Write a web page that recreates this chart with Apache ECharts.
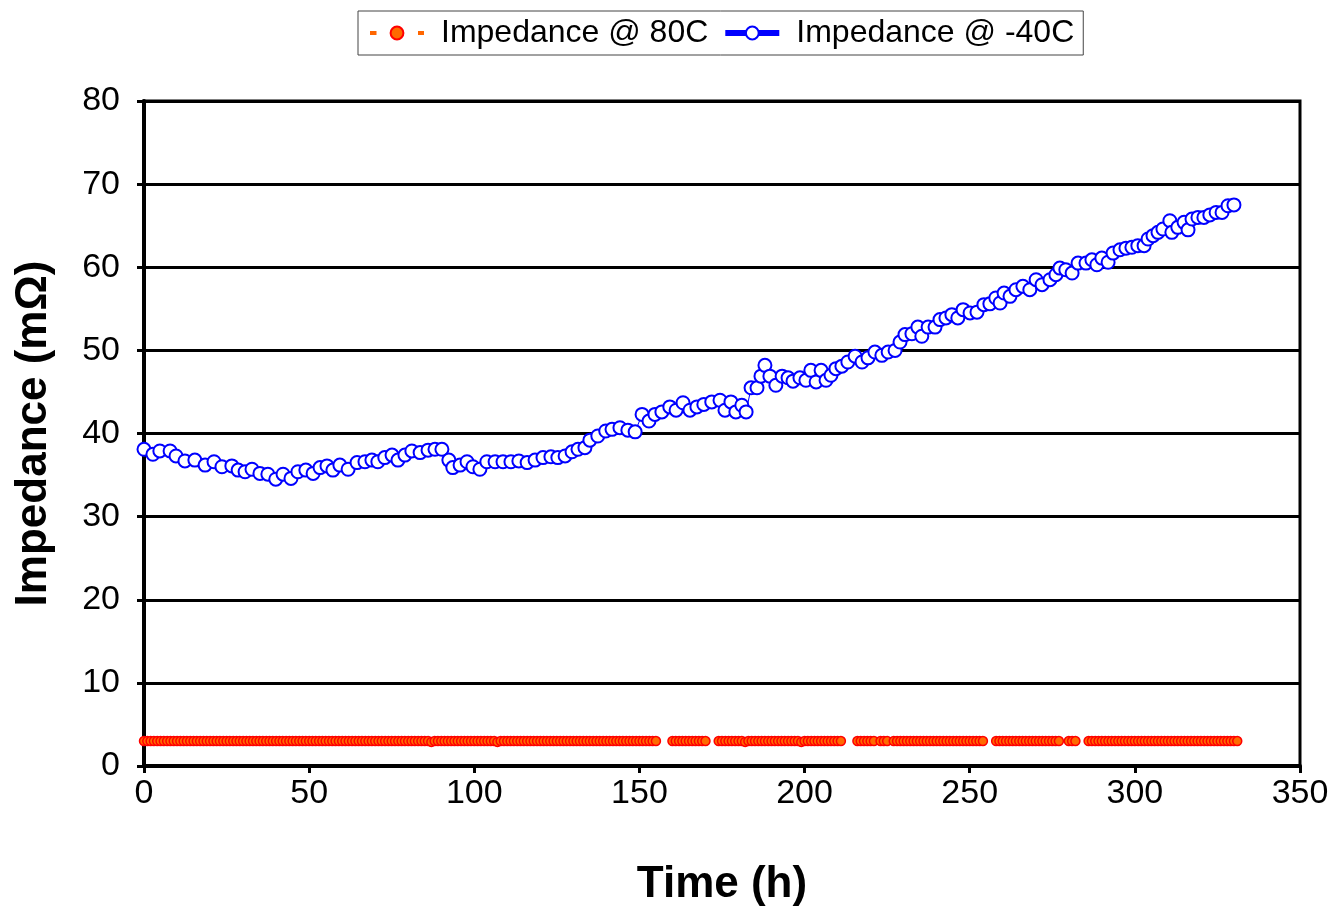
<!DOCTYPE html>
<html>
<head>
<meta charset="utf-8">
<title>Impedance vs Time</title>
<script src="https://cdn.jsdelivr.net/npm/echarts@6/dist/echarts.min.js"></script>
<style>
  html, body { margin: 0; padding: 0; background: #fff; }
  #chart { width: 1334px; height: 906px; }
</style>
</head>
<body>
<div id="chart"></div>
<script>
// Impedance measured at 80C (hours, mOhm); null marks a break in logging
const hours80 = [
  0,1,2,3,4,5,6,7,8,9,10,11,12,13,14,15,16,17,18,19,
  20,21,22,23,24,25,26,27,28,29,30,31,32,33,34,35,36,37,38,39,
  40,41,42,43,44,45,46,47,48,49,50,51,52,53,54,55,56,57,58,59,
  60,61,62,63,64,65,66,67,68,69,70,71,72,73,74,75,76,77,78,79,
  80,81,82,83,84,85,86,87,88,89,90,91,92,93,94,95,96,97,98,99,
  100,101,102,103,104,105,106,107,108,109,110,111,112,113,114,115,116,117,118,119,
  120,121,122,123,124,125,126,127,128,129,130,131,132,133,134,135,136,137,138,139,
  140,141,142,143,144,145,146,147,148,149,150,151,152,153,154,155,
  157.5,
  160,161,162,163,164,165,166,167,168,169,170,
  172,
  174,175,176,177,178,179,180,181,182,183,184,185,186,187,188,189,190,191,192,193,
  194,195,196,197,198,199,200,201,202,203,204,205,206,207,208,209,210,211,
  213.5,
  216,217,218,219,220,221,
  222,
  223,224,225,
  226,
  227,228,229,230,231,232,233,234,235,236,237,238,239,240,241,242,243,244,245,246,
  247,248,249,250,251,252,253,254,
  256,
  258,259,260,261,262,263,264,265,266,267,268,269,270,271,272,273,274,275,276,277,
  278.5,
  280,281,282,
  284,
  286,287,288,289,290,291,292,293,294,295,296,297,298,299,300,301,302,303,304,305,
  306,307,308,309,310,311,312,313,314,315,316,317,318,319,320,321,322,323,324,325,
  326,327,328,329,330,331
];
const imp80 = [
  3,3,3,3,3,3,3,3,3,3,3,3,3,3,3,3,3,3,3,3,
  3,3,3,3,3,3,3,3,3,3,3,3,3,3,3,3,3,3,3,3,
  3,3,3,3,3,3,3,3,3,3,3,3,3,3,3,3,3,3,3,3,
  3,3,3,3,3,3,3,3,3,3,3,3,3,3,3,3,3,3,3,3,
  3,3,3,3,3,3,3,2.9,3,3,3,3,3,3,3,3,3,3,3,3,
  3,3,3,3,3,3,3,2.9,3,3,3,3,3,3,3,3,3,3,3,3,
  3,3,3,3,3,3,3,3,3,3,3,3,3,3,3,3,3,3,3,3,
  3,3,3,3,3,3,3,3,3,3,3,3,3,3,3,3,
  null,
  3,3,3,3,3,3,3,3,3,3,3,
  null,
  3,3,3,3,3,3,3,3,2.9,3,3,3,3,3,3,3,3,3,3,3,
  3,3,3,3,3,2.9,3,3,3,3,3,3,3,3,3,3,3,3,
  null,
  3,3,3,3,3,3,
  null,
  3,3,3,
  null,
  3,3,3,3,3,3,3,3,3,3,3,3,3,3,3,3,3,3,3,3,
  3,3,3,3,3,3,3,3,
  null,
  3,3,3,3,3,3,3,3,3,3,3,3,3,3,3,3,3,3,3,3,
  null,
  3,3,3,
  null,
  3,3,3,3,3,3,3,3,3,3,3,3,3,3,3,3,3,3,3,3,
  3,3,3,3,3,3,3,3,3,3,3,3,3,3,3,3,3,3,3,3,
  3,3,3,3,3,3
];

// Impedance measured at -40C (hours, mOhm)
const hours40 = [
  0.0,2.7,4.8,7.9,9.7,12.4,15.4,18.5,21.2,23.6,
  26.6,28.5,30.6,32.7,35.1,37.5,39.9,42.1,44.5,46.6,
  49.0,51.2,53.3,55.4,57.2,59.3,61.8,64.5,66.9,69.0,
  70.8,72.9,75.1,76.9,79.0,81.1,83.6,86.0,88.1,90.2,
  92.3,93.5,95.7,97.8,99.6,101.7,103.8,106.3,108.7,111.1,
  113.5,116.0,118.4,120.8,123.2,125.3,127.5,129.6,131.4,133.5,
  135.0,137.4,139.8,141.7,144.1,146.5,148.7,150.8,152.9,154.7,
  156.8,159.2,161.1,163.2,165.3,167.4,169.5,171.9,174.4,175.9,
  177.7,179.2,181.0,182.3,183.8,185.6,186.8,188.0,189.5,191.3,
  193.2,195.0,196.5,198.6,200.4,201.9,203.5,205.0,206.5,208.0,
  209.5,211.3,213.1,215.3,217.4,219.2,221.3,223.4,225.3,227.4,
  228.9,230.4,232.5,234.3,235.5,237.4,239.5,241.0,242.8,244.6,
  246.4,248.0,250.1,252.2,254.3,256.1,257.9,259.2,260.4,262.2,
  264.0,266.1,268.2,270.1,271.9,274.3,276.1,277.3,279.1,281.0,
  282.8,285.2,287.0,288.5,290.0,291.9,293.4,295.5,297.3,299.1,
  300.9,302.8,304.0,305.5,307.0,308.5,310.6,311.2,313.0,314.9,
  316.1,317.3,319.1,320.9,322.7,324.6,326.4,328.2,330.0
];
const imp40 = [
  38.1,37.5,37.9,37.9,37.3,36.7,36.8,36.2,36.6,36.0,
  36.1,35.6,35.4,35.7,35.2,35.1,34.5,35.1,34.6,35.4,
  35.6,35.2,35.9,36.1,35.6,36.2,35.7,36.5,36.6,36.8,
  36.6,37.1,37.4,36.8,37.4,37.9,37.7,38.0,38.1,38.1,
  36.8,35.9,36.2,36.6,36.0,35.7,36.6,36.6,36.6,36.6,
  36.7,36.5,36.8,37.1,37.2,37.1,37.3,37.8,38.1,38.3,
  39.2,39.7,40.3,40.5,40.7,40.4,40.2,42.3,41.5,42.3,
  42.6,43.2,42.8,43.7,42.8,43.2,43.5,43.8,44.0,42.8,
  43.8,42.6,43.4,42.6,45.5,45.5,46.9,48.2,46.9,45.8,
  46.9,46.7,46.3,46.7,46.4,47.6,46.2,47.6,46.4,47.0,
  47.8,48.1,48.6,49.3,48.6,49.1,49.8,49.4,49.8,50.0,
  51.0,51.9,52.0,52.8,51.7,52.8,52.8,53.7,53.9,54.3,
  53.9,54.9,54.5,54.6,55.5,55.6,56.3,55.7,56.9,56.5,
  57.3,57.7,57.3,58.5,57.9,58.5,59.1,59.9,59.7,59.3,
  60.5,60.5,60.9,60.3,61.1,60.6,61.7,62.1,62.3,62.4,
  62.6,62.6,63.4,63.8,64.2,64.6,65.6,64.2,64.8,65.4,
  64.5,65.8,66.0,66.0,66.3,66.6,66.6,67.4,67.5
];

const seriesNames = ['Impedance @ 80C', 'Impedance @ -40C'];
const xTicks = { min: 0, max: 350, step: 50 };
const yTicks = { min: 0, max: 80, step: 10 };

const FONT = "'Liberation Sans', Arial, Helvetica, sans-serif";

function pairUp(xs, ys) {
  return xs.map((x, i) => [x, ys[i] == null ? '-' : ys[i]]);
}

const chart = echarts.init(document.getElementById('chart'), null, { renderer: 'canvas' });

chart.setOption({
  backgroundColor: '#ffffff',
  animation: false,
  textStyle: { fontFamily: FONT, color: '#000' },
  grid: {
    left: 144, right: 34, top: 101, bottom: 140,
    outerBoundsMode: 'none',
    containLabel: false,
    show: true, borderColor: '#000', borderWidth: 3
  },
  legend: {
    left: 358, top: 11,
    padding: [6, 9, 6, 10],
    borderColor: '#444', borderWidth: 1,
    itemWidth: 54, itemHeight: 16, itemGap: 14,
    textStyle: { fontSize: 32, color: '#000', fontFamily: FONT, padding: [0, 0, 0, 12] },
    data: [
      { name: seriesNames[0], lineStyle: { color: '#FF6600', width: 4, type: [6.5, 17.5] } },
      { name: seriesNames[1], lineStyle: { color: '#0000FF', width: 6, type: 'solid' } }
    ]
  },
  xAxis: {
    type: 'value',
    min: xTicks.min, max: xTicks.max, interval: xTicks.step,
    name: 'Time (h)',
    nameLocation: 'middle', nameGap: 97,
    nameTextStyle: { fontSize: 44, fontWeight: 'bold', color: '#000', fontFamily: FONT },
    axisLine: { show: true, onZero: false, lineStyle: { color: '#000', width: 4 } },
    axisTick: { show: true, inside: false, length: 7, lineStyle: { color: '#000', width: 3 } },
    axisLabel: { fontSize: 34, color: '#000', margin: 11, fontFamily: FONT },
    splitLine: { show: false }
  },
  yAxis: {
    type: 'value',
    min: yTicks.min, max: yTicks.max, interval: yTicks.step,
    name: 'Impedance (mΩ)',
    nameLocation: 'middle', nameGap: 88,
    nameTextStyle: { fontSize: 44, fontWeight: 'bold', color: '#000', fontFamily: FONT },
    axisLine: { show: true, lineStyle: { color: '#000', width: 4 } },
    axisTick: { show: true, inside: false, length: 7, lineStyle: { color: '#000', width: 3 } },
    axisLabel: { fontSize: 34, color: '#000', margin: 24, fontFamily: FONT },
    splitLine: { show: true, lineStyle: { color: '#000', width: 3 } }
  },
  series: [
    {
      name: seriesNames[0],
      type: 'line',
      data: pairUp(hours80, imp80),
      connectNulls: false,
      showSymbol: true, showAllSymbol: true,
      symbol: 'circle', symbolSize: 9,
      color: '#FF6600',
      lineStyle: { color: '#FF6600', width: 2, type: 'dashed' },
      itemStyle: { color: '#FF6A00', borderColor: '#FF0000', borderWidth: 1.5 },
      emphasis: { disabled: true },
      z: 3
    },
    {
      name: seriesNames[1],
      type: 'line',
      data: pairUp(hours40, imp40),
      showSymbol: true, showAllSymbol: true,
      symbol: 'circle', symbolSize: 13,
      color: '#0000FF',
      lineStyle: { color: '#0000FF', width: 1 },
      itemStyle: { color: '#FFFFFF', borderColor: '#0000FF', borderWidth: 2 },
      emphasis: { disabled: true },
      z: 4
    }
  ]
});
</script>
</body>
</html>
